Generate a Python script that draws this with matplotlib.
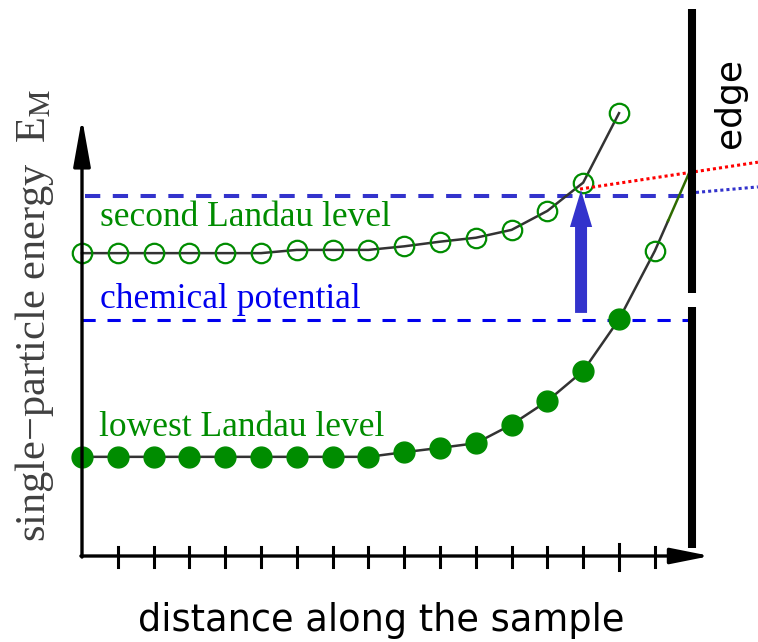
import numpy as np
import matplotlib
matplotlib.use('Agg')
import matplotlib.pyplot as plt
from matplotlib.patches import FancyArrow

plt.rcParams['lines.scale_dashes'] = False
plt.rcParams['mathtext.fontset'] = 'stix'

# sample positions along the sample (tick units)
pos = np.arange(16)
ticks = np.arange(1, 17)
long_tick = 15

# second Landau level (open circles)
second_E = [8.46, 8.46, 8.46, 8.46, 8.46, 8.46, 8.55, 8.55, 8.55, 8.65,
            8.78, 8.89, 9.11, 9.64, 10.43, 12.37]
# lowest Landau level (filled circles)
lowest_E = [2.77, 2.77, 2.77, 2.77, 2.77, 2.77, 2.77, 2.77, 2.77, 2.90,
            3.02, 3.15, 3.67, 4.33, 5.17, 6.61]
# continuation of the lowest level near the edge
tail_x = [16, 16.37]
tail_E = [8.52, 9.36]
open_tail_x = [16]
open_tail_E = [8.52]
edge_seg_x = [16.37, 16.98]
edge_seg_E = [9.36, 10.75]

mu = 6.59          # chemical potential
mu_shift = 10.06   # raised level
edge_x = 17.04
red_x = [13.91, 18.88]
red_E = [10.25, 11.0]
blue_x = [16.98, 18.88]
blue_E = [10.14, 10.31]
arrow_x = 13.94
arrow_E = [6.79, 10.22]

s = 35.8  # pixels per unit
fig = plt.figure(figsize=(7.58, 6.42), dpi=100)
ax = fig.add_axes([0, 0, 1, 1])
ax.set_xlim(-82 / s, (758 - 82) / s)
ax.set_ylim((556 - 642) / s, 556 / s)
ax.axis('off')

green = '#008c00'
blue2 = '#3333cc'

# dashed levels
ax.plot([0.08, edge_x - 0.05], [mu_shift, mu_shift], color=blue2, lw=2.9,
        dashes=(11, 9), zorder=2)
ax.plot([0.0, edge_x - 0.05], [mu, mu], color='#0000ee', lw=2.2,
        dashes=(9.5, 8.5), zorder=2)

# curves
ax.plot(pos, second_E, color='#333333', lw=1.8, zorder=3)
ax.plot(list(pos) + tail_x, lowest_E + tail_E, color='#333333', lw=1.8, zorder=3)
ax.plot(edge_seg_x, edge_seg_E, color='#2e6b00', lw=1.8, zorder=3)

# markers
ax.plot(pos, second_E, 'o', ms=14, mfc='none', mec=green, mew=1.6, zorder=4)
ax.plot(open_tail_x, open_tail_E, 'o', ms=14, mfc='none', mec=green, mew=1.6, zorder=4)
ax.plot(pos, lowest_E, 'o', ms=15, mfc=green, mec=green, zorder=4)

# dotted lines beyond the edge
ax.plot(red_x, red_E, color='#ff0000', lw=2.2, dashes=(2.2, 2.2), zorder=5)
ax.plot(blue_x, blue_E, color=blue2, lw=2.2, dashes=(2.2, 2.2), zorder=5)

# blue arrow
ax.add_patch(FancyArrow(arrow_x, arrow_E[0], 0, arrow_E[1] - arrow_E[0],
                        width=0.335, head_width=0.62, head_length=1.03,
                        length_includes_head=True, color=blue2, lw=0, zorder=6))

# edge
ax.plot([edge_x, edge_x], [15.28, 7.35], color='k', lw=5.8,
        solid_capstyle='butt', zorder=6)
ax.plot([edge_x, edge_x], [6.96, 0.22], color='k', lw=5.8,
        solid_capstyle='butt', zorder=6)

# axes
ax.annotate('', xy=(0, 12.23), xytext=(0, -0.03),
            arrowprops=dict(arrowstyle='-|>,head_length=1.45,head_width=0.26',
                            color='k', lw=2.4, mutation_scale=20,
                            shrinkA=0, shrinkB=0), zorder=7)
ax.annotate('', xy=(17.55, 0), xytext=(-0.03, 0),
            arrowprops=dict(arrowstyle='-|>,head_length=1.2,head_width=0.24',
                            color='k', lw=2.4, mutation_scale=20,
                            shrinkA=0, shrinkB=0), zorder=7)
for t in ticks:
    h = 0.34 if t == long_tick else 0.26
    ax.plot([t, t], [-h - 0.05, h], color='k', lw=2.2, zorder=7)

# labels
serif = ['Liberation Serif', 'DejaVu Serif']
ax.text(0.50, 9.22, 'second Landau level', color=green, fontsize=25.5,
        family=serif, va='baseline', ha='left')
ax.text(0.50, 6.93, 'chemical potential', color='#0000ee', fontsize=25.5,
        family=serif, va='baseline', ha='left')
ax.text(0.47, 3.36, 'lowest Landau level', color=green, fontsize=25.5,
        family=serif, va='baseline', ha='left')
ax.text((35 - 82) / s, (556 - 315) / s,
        'single\u2212particle energy  E$_{\\mathrm{M}}$', color='#404040',
        fontsize=30.5, family=serif, rotation=90, ha='center', va='center')
ax.text((730 - 82) / s, (556 - 103) / s, 'edge', fontsize=26,
        family='DejaVu Sans', rotation=90, ha='center', va='center')
ax.text((381 - 82) / s, (556 - 631) / s, 'distance along the sample',
        fontsize=26.5, family='DejaVu Sans', ha='center', va='baseline')

fig.savefig('out.png', dpi=100)
